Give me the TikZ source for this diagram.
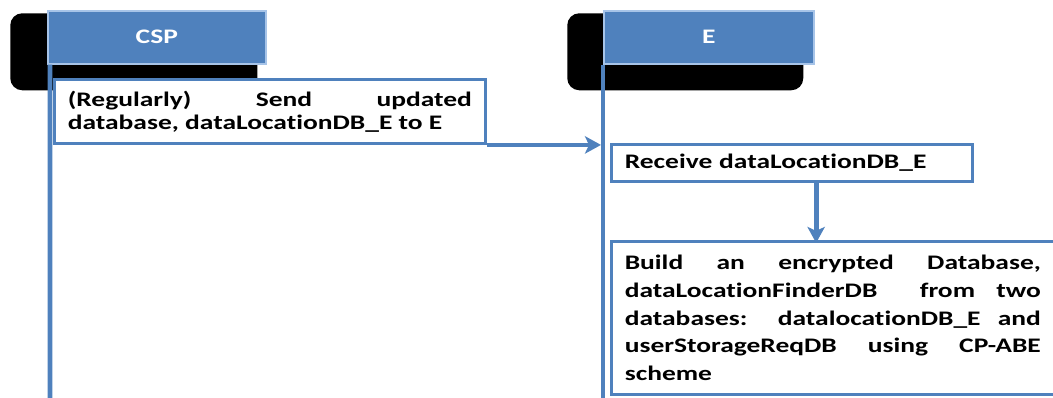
\documentclass[tikz,border=0pt]{standalone}
\usepackage{fontspec}
\setmainfont{Carlito}[FakeStretch=1.33, Ligatures=NoCommon]
\usetikzlibrary{arrows.meta}

\definecolor{hdrblue}{HTML}{4F81BD}
\definecolor{hdredge}{HTML}{A7C4E8}

\tikzset{
  backshade/.style={fill=black, rounded corners=9pt, anchor=north west, inner sep=0pt},
  header/.style={draw=hdredge, line width=1.2pt, fill=hdrblue, text=white,
    font=\fontsize{15.5}{17.25}\selectfont\bfseries, anchor=north west, inner sep=0pt,
    minimum height=39.75pt},
  actbox/.style={draw=hdrblue, line width=2.2pt, fill=white, anchor=north west,
    font=\fontsize{15.5}{17.25}\selectfont\bfseries, align=justify, inner xsep=10pt},
  lifeline/.style={hdrblue, line width=3.6pt},
  msg/.style={hdrblue, line width=2.4pt, -{Stealth[length=12pt,width=13pt,inset=3pt]}}
}

\begin{document}
\begin{tikzpicture}[x=0.75pt,y=-0.75pt]
\useasboundingbox (0,0) rectangle (1053,398);
\hyphenpenalty=10000

% actors
\node[backshade, minimum width=185.25pt, minimum height=57.75pt] (cspshade) at (10,13) {};
\node[backshade, minimum width=177pt, minimum height=57.75pt] (eshade) at (567,13) {};
\node[header, minimum width=163.5pt] (csp) at (47,10) {CSP};
\node[header, minimum width=157.5pt] (e) at (603,10) {E};

% lifelines
\coordinate (cspend) at (50,400);
\coordinate (eend) at (603,400);
\draw[lifeline] (csp.south west) ++(2.3pt,0) -- (cspend);
\draw[lifeline] (e.south west) -- (eend);

% CSP side
\node[actbox, text width=303pt, minimum height=48pt] (send) at (53,78)
  {(Regularly) Send updated\linebreak database, dataLocationDB\_E to E};

% E side
\node[actbox, text width=251pt, minimum height=27.75pt, align=left] (recv) at (610,143)
  {Receive dataLocationDB\_E};
\node[actbox, text width=312pt, minimum height=114.75pt,
  font=\fontsize{15.5}{20.8}\selectfont\bfseries] (build) at (610,240)
  {Build an encrypted Database, dataLocationFinderDB\ \ from two databases: datalocationDB\_E and userStorageReqDB using CP-ABE scheme};

% messages
\coordinate (ehit) at (601,142);
\draw[msg] (send.south east) -- (send.south east -| ehit);
\draw[msg, line width=3.6pt] (recv.south) ++(18pt,0) -- ++(0,-45pt);
\end{tikzpicture}
\end{document}
